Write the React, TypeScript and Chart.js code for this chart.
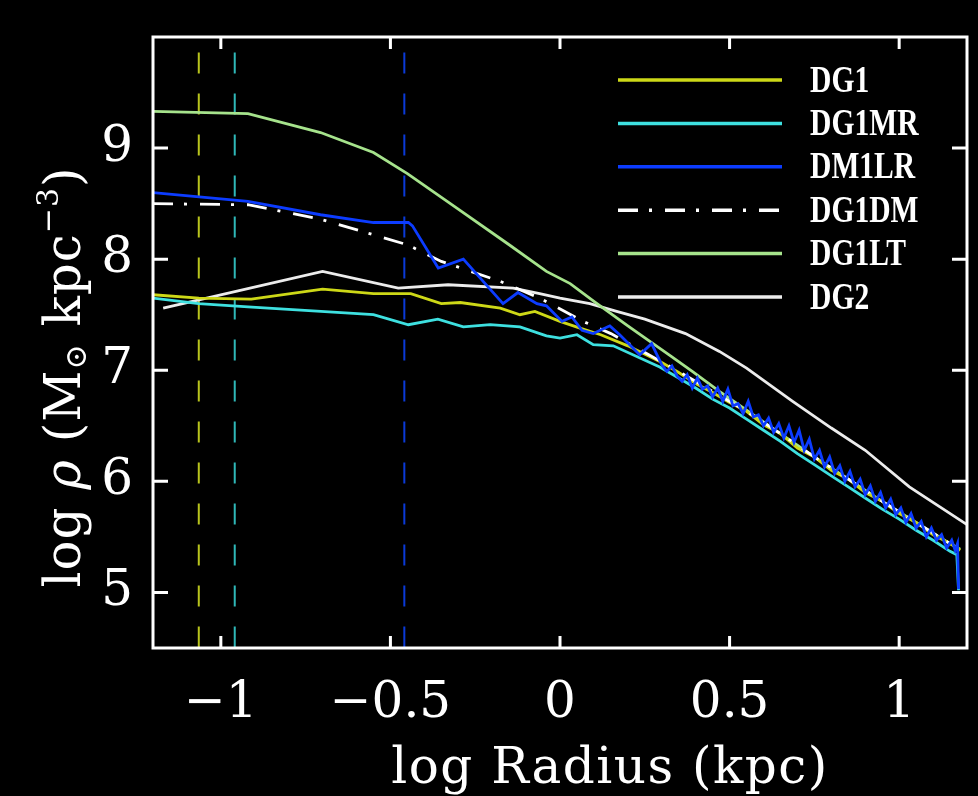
import React, { useEffect, useRef } from "react";
import { Chart, registerables } from "chart.js";

Chart.register(...registerables);

// ---------- axis ticks ----------
const xTickValues = [-1, -0.5, 0, 0.5, 1];
const xTickLabels = ["\u22121", "\u22120.5", "0", "0.5", "1"];
const yTickValues = [5, 6, 7, 8, 9];
const yTickLabels = ["5", "6", "7", "8", "9"];
const xMin = -1.2;
const xMax = 1.2;
const yMin = 4.5;
const yMax = 10;

const xTitle = "log Radius (kpc)";
// y title pieces: [text, style]  style: n normal, i italic, sub subscript, sup superscript
const yTitleParts: [string, string][] = [
  ["log ", "n"],
  ["\u03c1", "i"],
  [" (M", "n"],
  ["\u2299", "sub"],
  [" kpc", "n"],
  ["\u22123", "sup"],
  [")", "n"],
];

const seriesNames = ["DG1", "DG1MR", "DM1LR", "DG1DM", "DG1LT", "DG2"];

// ---------- DG1 ----------
const dg1R = [-1.2, -1.065, -0.91, -0.7, -0.55, -0.44, -0.35, -0.294, -0.176, -0.118, -0.074, 0, 0.059, 0.12, 0.2, 0.3, 0.35, 0.4, 0.45, 0.5, 0.55, 0.6, 0.65, 0.7, 0.75, 0.8, 0.85, 0.9, 0.95, 1.0, 1.05, 1.1, 1.15, 1.18];
const dg1Rho = [7.68, 7.65, 7.64, 7.73, 7.69, 7.69, 7.6, 7.61, 7.56, 7.5, 7.53, 7.44, 7.38, 7.32, 7.22, 7.07, 6.98, 6.88, 6.8, 6.71, 6.63, 6.51, 6.43, 6.3, 6.22, 6.1, 6.02, 5.9, 5.82, 5.71, 5.63, 5.52, 5.44, 5.38];

// ---------- DG1MR ----------
const dg1mrR = [-1.2, -1.065, -0.92, -0.55, -0.447, -0.36, -0.285, -0.206, -0.118, -0.04, 0, 0.05, 0.098, 0.157, 0.294, 0.35, 0.4, 0.45, 0.5, 0.55, 0.6, 0.65, 0.7, 0.75, 0.8, 0.85, 0.9, 0.95, 1.0, 1.05, 1.1, 1.15, 1.17, 1.175];
const dg1mrRho = [7.65, 7.6, 7.57, 7.5, 7.41, 7.46, 7.39, 7.41, 7.39, 7.31, 7.29, 7.32, 7.23, 7.22, 7.03, 6.93, 6.84, 6.74, 6.66, 6.56, 6.46, 6.36, 6.25, 6.15, 6.05, 5.95, 5.85, 5.75, 5.66, 5.56, 5.47, 5.37, 5.34, 5.02];

// ---------- DM1LR ----------
const dm1lrR = [-1.2, -0.92, -0.706, -0.55, -0.447, -0.435, -0.359, -0.285, -0.168, -0.124, -0.068, -0.04, 0.006, 0.035, 0.065, 0.098, 0.147, 0.176, 0.235, 0.27, 0.3, 0.315, 0.33, 0.345, 0.36, 0.375, 0.39, 0.405, 0.42, 0.435, 0.45, 0.465, 0.48, 0.495, 0.51, 0.525, 0.54, 0.555, 0.57, 0.585, 0.6, 0.615, 0.63, 0.645, 0.66, 0.675, 0.69, 0.705, 0.72, 0.735, 0.75, 0.765, 0.78, 0.795, 0.81, 0.825, 0.84, 0.855, 0.87, 0.885, 0.9, 0.915, 0.93, 0.945, 0.96, 0.975, 0.99, 1.005, 1.02, 1.035, 1.05, 1.065, 1.08, 1.095, 1.11, 1.125, 1.14, 1.155, 1.165, 1.172, 1.175];
const dm1lrRho = [8.6, 8.52, 8.4, 8.33, 8.33, 8.3, 7.92, 8.0, 7.6, 7.7, 7.6, 7.58, 7.44, 7.48, 7.36, 7.33, 7.4, 7.32, 7.14, 7.24, 7.05, 6.99, 7.04, 6.95, 6.9, 6.96, 6.84, 6.93, 6.83, 6.86, 6.76, 6.84, 6.72, 6.83, 6.68, 6.7, 6.61, 6.72, 6.58, 6.6, 6.5, 6.57, 6.44, 6.52, 6.39, 6.5, 6.35, 6.46, 6.28, 6.38, 6.2, 6.28, 6.13, 6.22, 6.07, 6.14, 6.0, 6.09, 5.95, 6.02, 5.88, 5.96, 5.82, 5.9, 5.76, 5.84, 5.7, 5.76, 5.63, 5.71, 5.58, 5.64, 5.5, 5.58, 5.47, 5.52, 5.4, 5.47, 5.38, 5.44, 5.03];

// ---------- DG1DM ----------
const dg1dmR = [-1.2, -0.92, -0.706, -0.45, -0.35, -0.176, -0.06, 0.068, 0.15, 0.25, 0.35, 0.45, 0.55, 0.65, 0.75, 0.85, 0.95, 1.05, 1.15, 1.18];
const dg1dmRho = [8.5, 8.49, 8.36, 8.13, 7.98, 7.8, 7.65, 7.44, 7.33, 7.16, 6.99, 6.81, 6.63, 6.43, 6.22, 6.02, 5.82, 5.63, 5.44, 5.4];

// ---------- DG1LT ----------
const dg1ltR = [-1.2, -0.92, -0.706, -0.55, -0.45, -0.3, -0.15, -0.04, 0.03, 0.1, 0.2, 0.265, 0.33, 0.39, 0.47, 0.55, 0.65, 0.75, 0.85, 0.95, 1.05, 1.15, 1.18];
const dg1ltRho = [9.33, 9.31, 9.14, 8.96, 8.77, 8.45, 8.13, 7.89, 7.78, 7.62, 7.4, 7.26, 7.12, 6.99, 6.81, 6.64, 6.43, 6.22, 6.02, 5.82, 5.63, 5.44, 5.39];

// ---------- DG2 ----------
const dg2R = [-1.17, -0.7, -0.477, -0.33, -0.138, -0.06, 0, 0.088, 0.167, 0.25, 0.37, 0.47, 0.55, 0.686, 0.8, 0.9, 1.03, 1.12, 1.2];
const dg2Rho = [7.56, 7.89, 7.74, 7.77, 7.74, 7.69, 7.65, 7.6, 7.53, 7.46, 7.33, 7.17, 7.02, 6.72, 6.48, 6.28, 5.95, 5.77, 5.61];

// ---------- resolution limits (vertical dashed lines) ----------
const resolutionR = [-1.065, -0.959, -0.459];
const resolutionTop = 9.86;
const resolutionBottom = 4.5;

const seriesColors = ["#cdd817", "#3ee0e0", "#0c3cff", "#ffffff", "#a6e38c", "#ececec"];
const resolutionColors = ["#b8c41c", "#2fb8b8", "#0a3ad8"];

const toPts = (r: number[], v: number[]) => r.map((x, i) => ({ x, y: v[i] }));

const bgPlugin = {
  id: "bgBlack",
  beforeDraw(chart: any) {
    const ctx = chart.ctx;
    ctx.save();
    ctx.fillStyle = "#000";
    ctx.fillRect(0, 0, chart.width, chart.height);
    ctx.restore();
  },
};

const framePlugin = {
  id: "frameTicks",
  afterDatasetsDraw(chart: any) {
    const { ctx, chartArea: a, scales } = chart;
    ctx.save();
    ctx.strokeStyle = "#ffffff";
    ctx.lineWidth = 3;
    ctx.setLineDash([]);
    ctx.strokeRect(a.left, a.top, a.right - a.left, a.bottom - a.top);
    ctx.beginPath();
    xTickValues.forEach((v) => {
      const px = scales.x.getPixelForValue(v);
      ctx.moveTo(px, a.bottom);
      ctx.lineTo(px, a.bottom - 12);
      ctx.moveTo(px, a.top);
      ctx.lineTo(px, a.top + 12);
    });
    yTickValues.forEach((v) => {
      const py = scales.y.getPixelForValue(v);
      ctx.moveTo(a.left, py);
      ctx.lineTo(a.left + 15, py);
      ctx.moveTo(a.right, py);
      ctx.lineTo(a.right - 15, py);
    });
    ctx.stroke();

    // legend
    const rowY0 = a.top + 43;
    const rowStep = 43.4;
    seriesNames.forEach((name, i) => {
      const ds = chart.data.datasets[i];
      const y = rowY0 + i * rowStep;
      ctx.beginPath();
      ctx.strokeStyle = ds.borderColor;
      ctx.lineWidth = 3.5;
      ctx.setLineDash(ds.borderDash || []);
      ctx.moveTo(a.left + 465, y);
      ctx.lineTo(a.left + 629, y);
      ctx.stroke();
      ctx.setLineDash([]);
      ctx.save();
      ctx.translate(a.left + 657, y + 2);
      ctx.scale(0.8, 1);
      ctx.fillStyle = "#ffffff";
      ctx.font = "bold 37px 'Liberation Serif'";
      ctx.textAlign = "left";
      ctx.textBaseline = "middle";
      ctx.fillText(name, 0, 0);
      ctx.restore();
    });

    // x title
    ctx.fillStyle = "#ffffff";
    ctx.font = "50px 'DejaVu Serif'";
    (ctx as any).letterSpacing = "1.5px";
    ctx.textAlign = "center";
    ctx.textBaseline = "alphabetic";
    ctx.fillText(xTitle, a.left + 457, 783);

    // y title (rotated)
    ctx.save();
    (ctx as any).letterSpacing = "1px";
    ctx.translate(80, 377);
    ctx.rotate(-Math.PI / 2);
    const fontFor = (s: string) =>
      s === "i" ? "italic 50px 'DejaVu Serif'" : s === "sub" || s === "sup" ? "30px 'DejaVu Serif'" : "50px 'DejaVu Serif'";
    let total = 0;
    const widths = yTitleParts.map(([t, s]) => {
      ctx.font = fontFor(s);
      const w = ctx.measureText(t).width;
      total += w;
      return w;
    });
    let cx = -total / 2;
    ctx.textAlign = "left";
    ctx.textBaseline = "alphabetic";
    yTitleParts.forEach(([t, s], i) => {
      ctx.font = fontFor(s);
      const dy = s === "sub" ? 6 : s === "sup" ? -22 : 0;
      ctx.fillText(t, cx, dy);
      cx += widths[i];
    });
    ctx.restore();
    (ctx as any).letterSpacing = "0px";
    ctx.restore();
  },
};

export default function App() {
  const ref = useRef<HTMLCanvasElement | null>(null);
  useEffect(() => {
    document.body.style.margin = "0";
    document.body.style.background = "#000";
    if (!ref.current) return;
    const mk = (label: string, r: number[], v: number[], color: string, order: number, dash?: number[]) => ({
      label,
      data: toPts(r, v),
      borderColor: color,
      backgroundColor: color,
      borderWidth: 2.8,
      borderDash: dash || [],
      pointRadius: 0,
      showLine: true,
      tension: 0,
      order,
    });
    const datasets: any[] = [
      mk(seriesNames[0], dg1R, dg1Rho, seriesColors[0], 3),
      mk(seriesNames[1], dg1mrR, dg1mrRho, seriesColors[1], 4),
      mk(seriesNames[2], dm1lrR, dm1lrRho, seriesColors[2], 0),
      mk(seriesNames[3], dg1dmR, dg1dmRho, seriesColors[3], 2, [20, 11, 3, 13]),
      mk(seriesNames[4], dg1ltR, dg1ltRho, seriesColors[4], 5),
      mk(seriesNames[5], dg2R, dg2Rho, seriesColors[5], 6),
    ];
    resolutionR.forEach((r, i) => {
      datasets.push({
        label: "res" + i,
        data: [
          { x: r, y: resolutionTop },
          { x: r, y: resolutionBottom },
        ],
        borderColor: resolutionColors[i],
        borderWidth: 2,
        borderDash: [21, 20],
        pointRadius: 0,
        showLine: true,
        order: 7,
      });
    });
    const chart = new Chart(ref.current, {
      type: "scatter",
      data: { datasets },
      plugins: [bgPlugin, framePlugin],
      options: {
        animation: false,
        responsive: false,
        devicePixelRatio: 1,
        layout: { padding: { top: 37, right: 11, left: 0, bottom: 0 } },
        plugins: { legend: { display: false }, tooltip: { enabled: false } },
        scales: {
          x: {
            type: "linear",
            min: xMin,
            max: xMax,
            grid: { display: false, drawTicks: false },
            border: { display: false },
            afterBuildTicks: (s: any) => {
              s.ticks = xTickValues.map((v) => ({ value: v }));
            },
            afterFit: (s: any) => {
              s.height = 148;
              s.paddingLeft = 0;
              s.paddingRight = 0;
            },
            ticks: {
              color: "#ffffff",
              font: { family: "'DejaVu Serif'", size: 50 },
              padding: 26,
              maxRotation: 0,
              autoSkip: false,
              callback: (v: any) => {
                const i = xTickValues.indexOf(Number(v));
                return i >= 0 ? xTickLabels[i] : "";
              },
            },
          },
          y: {
            type: "linear",
            min: yMin,
            max: yMax,
            grid: { display: false, drawTicks: false },
            border: { display: false },
            afterBuildTicks: (s: any) => {
              s.ticks = yTickValues.map((v) => ({ value: v }));
            },
            afterFit: (s: any) => {
              s.width = 153;
              s.paddingTop = 0;
              s.paddingBottom = 0;
            },
            ticks: {
              color: "#ffffff",
              font: { family: "'DejaVu Serif'", size: 50 },
              padding: 20,
              autoSkip: false,
              callback: (v: any) => {
                const i = yTickValues.indexOf(Number(v));
                return i >= 0 ? yTickLabels[i] : "";
              },
            },
          },
        },
      },
    });
    return () => chart.destroy();
  }, []);
  return <canvas ref={ref} width={978} height={796} style={{ display: "block", width: 978, height: 796 }} />;
}
